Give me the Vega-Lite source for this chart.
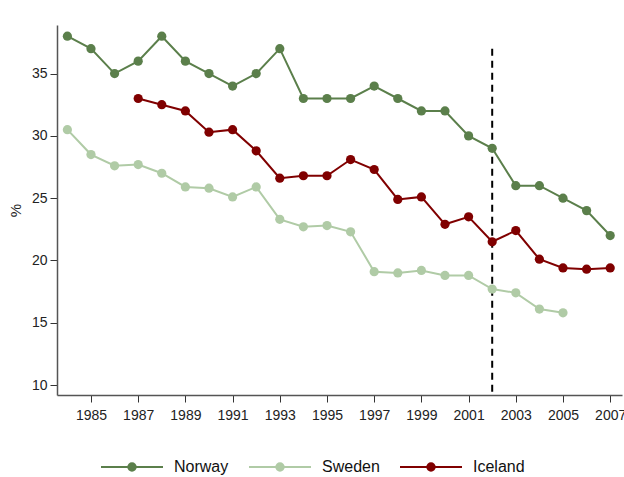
{
  "$schema": "https://vega.github.io/schema/vega-lite/v6.json",
  "autosize": "none",
  "width": 565,
  "height": 370,
  "padding": {"left": 57, "top": 25, "right": 2, "bottom": 82},
  "background": "white",
  "config": {
    "font": "Liberation Sans",
    "view": {"stroke": null},
    "axis": {"grid": false, "labelFont": "Liberation Sans", "labelFontSize": 14, "labelColor": "#222", "domainColor": "#555", "domainWidth": 1.5, "tickColor": "#333", "tickSize": 7, "titleFont": "Liberation Sans", "titleFontWeight": "normal", "titleFontSize": 15, "titleColor": "#222"}
  },
  "datasets": {
    "series": [
      {"year": 1984, "country": "Norway", "pct": 38},
      {"year": 1985, "country": "Norway", "pct": 37},
      {"year": 1986, "country": "Norway", "pct": 35},
      {"year": 1987, "country": "Norway", "pct": 36},
      {"year": 1988, "country": "Norway", "pct": 38},
      {"year": 1989, "country": "Norway", "pct": 36},
      {"year": 1990, "country": "Norway", "pct": 35},
      {"year": 1991, "country": "Norway", "pct": 34},
      {"year": 1992, "country": "Norway", "pct": 35},
      {"year": 1993, "country": "Norway", "pct": 37},
      {"year": 1994, "country": "Norway", "pct": 33},
      {"year": 1995, "country": "Norway", "pct": 33},
      {"year": 1996, "country": "Norway", "pct": 33},
      {"year": 1997, "country": "Norway", "pct": 34},
      {"year": 1998, "country": "Norway", "pct": 33},
      {"year": 1999, "country": "Norway", "pct": 32},
      {"year": 2000, "country": "Norway", "pct": 32},
      {"year": 2001, "country": "Norway", "pct": 30},
      {"year": 2002, "country": "Norway", "pct": 29},
      {"year": 2003, "country": "Norway", "pct": 26},
      {"year": 2004, "country": "Norway", "pct": 26},
      {"year": 2005, "country": "Norway", "pct": 25},
      {"year": 2006, "country": "Norway", "pct": 24},
      {"year": 2007, "country": "Norway", "pct": 22},
      {"year": 1984, "country": "Sweden", "pct": 30.5},
      {"year": 1985, "country": "Sweden", "pct": 28.5},
      {"year": 1986, "country": "Sweden", "pct": 27.6},
      {"year": 1987, "country": "Sweden", "pct": 27.7},
      {"year": 1988, "country": "Sweden", "pct": 27.0},
      {"year": 1989, "country": "Sweden", "pct": 25.9},
      {"year": 1990, "country": "Sweden", "pct": 25.8},
      {"year": 1991, "country": "Sweden", "pct": 25.1},
      {"year": 1992, "country": "Sweden", "pct": 25.9},
      {"year": 1993, "country": "Sweden", "pct": 23.3},
      {"year": 1994, "country": "Sweden", "pct": 22.7},
      {"year": 1995, "country": "Sweden", "pct": 22.8},
      {"year": 1996, "country": "Sweden", "pct": 22.3},
      {"year": 1997, "country": "Sweden", "pct": 19.1},
      {"year": 1998, "country": "Sweden", "pct": 19.0},
      {"year": 1999, "country": "Sweden", "pct": 19.2},
      {"year": 2000, "country": "Sweden", "pct": 18.8},
      {"year": 2001, "country": "Sweden", "pct": 18.8},
      {"year": 2002, "country": "Sweden", "pct": 17.7},
      {"year": 2003, "country": "Sweden", "pct": 17.4},
      {"year": 2004, "country": "Sweden", "pct": 16.1},
      {"year": 2005, "country": "Sweden", "pct": 15.8},
      {"year": 1987, "country": "Iceland", "pct": 33.0},
      {"year": 1988, "country": "Iceland", "pct": 32.5},
      {"year": 1989, "country": "Iceland", "pct": 32.0},
      {"year": 1990, "country": "Iceland", "pct": 30.3},
      {"year": 1991, "country": "Iceland", "pct": 30.5},
      {"year": 1992, "country": "Iceland", "pct": 28.8},
      {"year": 1993, "country": "Iceland", "pct": 26.6},
      {"year": 1994, "country": "Iceland", "pct": 26.8},
      {"year": 1995, "country": "Iceland", "pct": 26.8},
      {"year": 1996, "country": "Iceland", "pct": 28.1},
      {"year": 1997, "country": "Iceland", "pct": 27.3},
      {"year": 1998, "country": "Iceland", "pct": 24.9},
      {"year": 1999, "country": "Iceland", "pct": 25.1},
      {"year": 2000, "country": "Iceland", "pct": 22.9},
      {"year": 2001, "country": "Iceland", "pct": 23.5},
      {"year": 2002, "country": "Iceland", "pct": 21.5},
      {"year": 2003, "country": "Iceland", "pct": 22.4},
      {"year": 2004, "country": "Iceland", "pct": 20.1},
      {"year": 2005, "country": "Iceland", "pct": 19.4},
      {"year": 2006, "country": "Iceland", "pct": 19.3},
      {"year": 2007, "country": "Iceland", "pct": 19.4}
    ],
    "cut": [{"year": 2002, "top": 37, "bottom": 9.2}]
  },
  "layer": [
    {
      "data": {"name": "cut"},
      "mark": {"type": "rule", "color": "black", "strokeWidth": 2, "strokeDash": [7, 5]},
      "encoding": {
        "x": {"field": "year", "type": "quantitative", "scale": {"domain": [1983.56, 2007.5], "nice": false, "zero": false}},
        "y": {"field": "top", "type": "quantitative", "scale": {"domain": [9.2, 38.9], "nice": false, "zero": false}},
        "y2": {"field": "bottom"}
      }
    },
    {
      "data": {"name": "series"},
      "mark": {"type": "line", "strokeWidth": 2},
      "encoding": {
        "x": {"field": "year", "type": "quantitative", "scale": {"domain": [1983.56, 2007.5], "nice": false, "zero": false},
          "axis": {"title": null, "values": [1985, 1987, 1989, 1991, 1993, 1995, 1997, 1999, 2001, 2003, 2005, 2007], "format": "d", "labelPadding": 6}},
        "y": {"field": "pct", "type": "quantitative", "scale": {"domain": [9.2, 38.9], "nice": false, "zero": false},
          "axis": {"title": "%", "values": [10, 15, 20, 25, 30, 35], "titlePadding": 8, "labelPadding": 3}},
        "color": {"field": "country", "type": "nominal",
          "scale": {"domain": ["Norway", "Sweden", "Iceland"], "range": ["#5b7f4b", "#b0cba6", "#800000"]},
          "legend": {"title": null, "orient": "none", "direction": "horizontal", "legendX": 43, "legendY": 410,
            "symbolType": "M-1,0H-0.12M0.12,0H1M0.12,0A0.12,0.12 0 1,1 -0.12,0A0.12,0.12 0 1,1 0.12,0Z",
            "symbolSize": 3844, "symbolStrokeWidth": 2, "labelFontSize": 16, "labelFont": "Liberation Sans", "labelColor": "#111", "labelOffset": 10, "columnPadding": 16,
            "encode": {"symbols": {"update": {"fill": {"scale": "color", "field": "value"}, "stroke": {"scale": "color", "field": "value"}}}}}
        }
      }
    },
    {
      "data": {"name": "series"},
      "mark": {"type": "point", "filled": true, "size": 85, "opacity": 1},
      "encoding": {
        "x": {"field": "year", "type": "quantitative"},
        "y": {"field": "pct", "type": "quantitative"},
        "color": {"field": "country", "type": "nominal"}
      }
    }
  ]
}
